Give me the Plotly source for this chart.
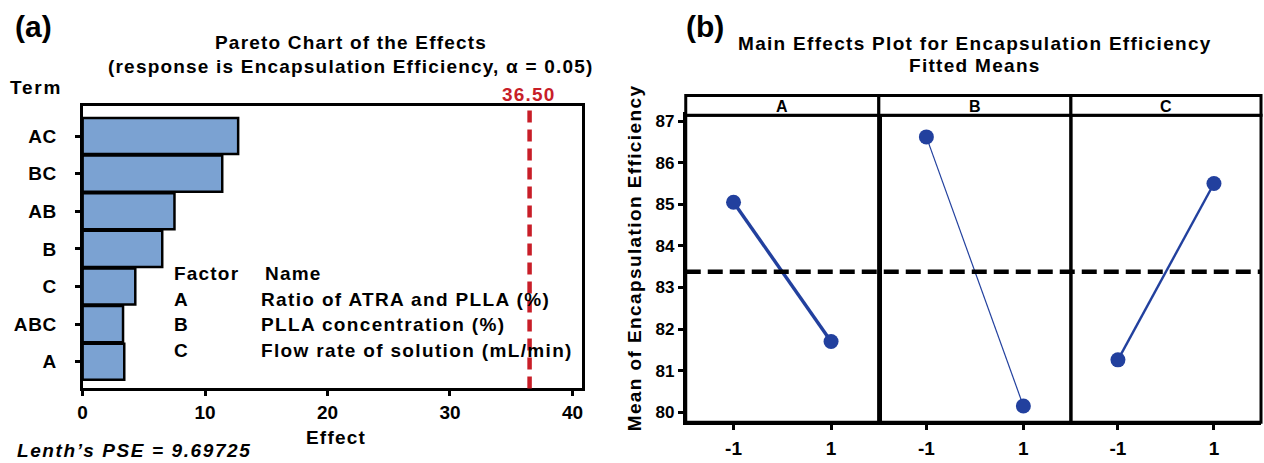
import plotly.graph_objects as go

W, H = 1264, 463

# ---- data ----
terms = ["A", "ABC", "C", "B", "AB", "BC", "AC"]
effects = [3.4, 3.3, 4.3, 6.5, 7.5, 11.4, 12.7]
critical_effect = 36.50
lenth_pse = "9.69725"
effect_ticks = [0, 10, 20, 30, 40]

factors = ["A", "B", "C"]
factor_names = ["Ratio of ATRA and PLLA (%)", "PLLA concentration (%)", "Flow rate of solution (mL/min)"]
levels = ["-1", "1"]
level_x = [-1, 1]
means_A = [85.05, 81.70]
means_B = [86.62, 80.15]
means_C = [81.26, 85.50]
grand_mean = 83.38
mean_ticks = [80, 81, 82, 83, 84, 85, 86, 87]
line_widths = [3.4, 1.2, 2.4]

FONT = "Liberation Sans, Arial, sans-serif"
BAR = "rgb(123,162,210)"
BLUE = "rgb(34,64,158)"
RED = "rgb(200,30,40)"


def px(x):
    return x / W


def py(y):
    return 1 - y / H


def sp(s, ls):
    return '<span style="letter-spacing:%.2fpx">%s</span>' % (ls, s)


fig = go.Figure()

# ---- panel (a): Pareto chart ----
fig.add_trace(go.Bar(
    x=effects, y=terms, orientation="h", width=0.96,
    marker=dict(color=BAR, line=dict(color="black", width=2.5)),
    xaxis="x", yaxis="y", showlegend=False))

fig.add_shape(type="line", xref="x", yref="paper", x0=critical_effect, x1=critical_effect,
              y0=py(388), y1=py(106), line=dict(color=RED, width=4.5, dash="12px,7px"))

# ---- panel (b): main effects ----
all_means = [means_A, means_B, means_C]
for i, m in enumerate(all_means):
    ax = "x%d" % (i + 2)
    fig.add_trace(go.Scatter(
        x=level_x, y=m, mode="lines+markers",
        line=dict(color=BLUE, width=line_widths[i]),
        marker=dict(color=BLUE, size=15),
        xaxis=ax, yaxis="y2", showlegend=False, cliponaxis=False))

fig.add_shape(type="line", xref="paper", yref="y2", x0=px(684), x1=px(1262),
              y0=grand_mean, y1=grand_mean, line=dict(color="black", width=4.5, dash="15px,7px"))

# panel frames and strips
panel_edges = [684, 878, 1071, 1262]
for i, f in enumerate(factors):
    fig.add_shape(type="rect", xref="paper", yref="paper", layer="below",
                  x0=px(panel_edges[i]), x1=px(panel_edges[i + 1]), y0=py(422), y1=py(113),
                  line=dict(color="black", width=3))
    fig.add_shape(type="rect", xref="paper", yref="paper",
                  x0=px(panel_edges[i]), x1=px(panel_edges[i + 1]), y0=py(113), y1=py(93),
                  line=dict(color="black", width=3), fillcolor="white")
    fig.add_annotation(x=px((panel_edges[i] + panel_edges[i + 1]) / 2), y=py(104), xref="paper", yref="paper",
                       text=f, showarrow=False, xanchor="center", yanchor="middle",
                       font=dict(family=FONT, size=16, color="black", weight="bold"))

axis_common = dict(showline=True, linecolor="black", linewidth=3, mirror=True, showgrid=False,
                   zeroline=False, ticks="outside", tickcolor="black", tickwidth=2.5)


def tf(size):
    return dict(family=FONT, size=size, color="black", weight="bold")


layout = dict(
    width=W, height=H, margin=dict(l=0, r=0, t=0, b=0),
    paper_bgcolor="white", plot_bgcolor="white",
    xaxis=dict(domain=[px(78), px(580)], range=[0, 40.8], tickvals=effect_ticks,
               ticktext=[str(v) for v in effect_ticks], ticklen=5, anchor="y", tickfont=tf(19),
               ticklabelstandoff=0, **axis_common),
    yaxis=dict(domain=[py(388), py(104)], type="category", categoryarray=terms, range=[-0.71, 6.79],
               tickvals=terms, ticktext=[sp(t, 0.6) for t in terms],
               ticklen=5, anchor="x", tickfont=tf(19), ticklabelstandoff=14, **axis_common),
    yaxis2=dict(domain=[py(422), py(113)], range=[79.76, 87.14], tickvals=mean_ticks,
                ticktext=[str(v) for v in mean_ticks],
                ticklen=5, anchor="x2", tickfont=tf(17), ticklabelstandoff=0, **axis_common),
)
for i in range(3):
    key = "xaxis%d" % (i + 2)
    layout[key] = dict(domain=[px(panel_edges[i]), px(panel_edges[i + 1])], range=[-1.98, 1.98],
                       tickvals=level_x, ticktext=levels, ticklen=5, anchor="y2", tickfont=tf(19),
                       ticklabelstandoff=2, **axis_common)
fig.update_layout(**layout)


# ---- texts ----
def txt(x, y, s, size=19, color="black", xanchor="center", italic=False, angle=0, ls=1.2):
    fig.add_annotation(x=px(x), y=py(y), xref="paper", yref="paper", text=sp(s, ls) if ls else s,
                       showarrow=False, xanchor=xanchor, yanchor="middle", textangle=angle,
                       borderpad=0, borderwidth=0,
                       font=dict(family=FONT, size=size, color=color, weight="bold",
                                 style="italic" if italic else "normal"))


txt(29, 24, "(a)", size=30, ls=0)
txt(348, 40, "Pareto Chart of the Effects")
txt(348, 64, "(response is Encapsulation Efficiency, \u03b1 = 0.05)")
txt(31, 85, "Term", ls=1.8)
txt(526, 92, "%.2f" % critical_effect, color=RED, ls=1.2)
txt(333, 437, "Effect")
txt(12, 450, "Lenth\u2019s PSE = " + lenth_pse, xanchor="left", italic=True, ls=1.6)

txt(170, 272, "Factor", xanchor="left", ls=1.2)
txt(261, 272, "Name", xanchor="left", ls=1.2)
for i, (f, n) in enumerate(zip(factors, factor_names)):
    yy = 298 + 26 * i
    txt(170, yy, f, xanchor="left", ls=1.1)
    txt(257, yy, n, xanchor="left", ls=1.35)

txt(703, 24, "(b)", size=30, ls=0)
txt(975, 41, "Main Effects Plot for Encapsulation Efficiency", ls=1.3)
txt(975, 63, "Fitted Means", ls=1.3)
txt(632, 257, "Mean of Encapsulation Efficiency", angle=-90, ls=1.4)

fig.write_html("out.html", config={"displayModeBar": False},
               post_script="document.body.style.margin='0';")
